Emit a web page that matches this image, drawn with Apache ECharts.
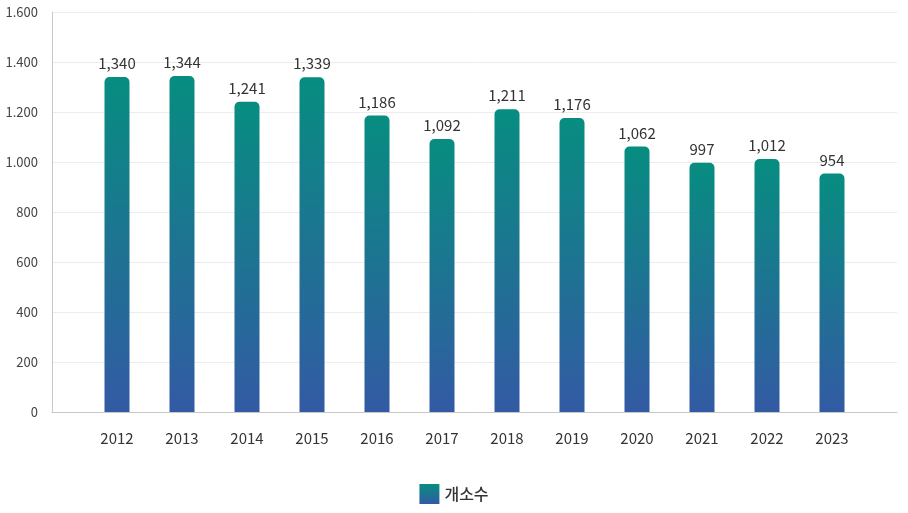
<!doctype html>
<html>
<head>
    <meta charset="utf-8">
    <title>개소수</title>
    <script src="https://cdn.jsdelivr.net/npm/echarts@6/dist/echarts.min.js"></script>
    <style>
        html, body { margin: 0; padding: 0; background: #fff; }
        #Chart { width: 908px; height: 513px; }
    </style>
</head>
<body>
    <div id="Chart"></div>
<script>
    // data
    var years = ['', '2012', '2013', '2014', '2015', '2016', '2017', '2018', '2019', '2020', '2021', '2022', '2023', ''];
    var counts = [null, 1340, 1344, 1241, 1339, 1186, 1092, 1211, 1176, 1062, 997, 1012, 954, null];
    var seriesName = '개소수';

    var font = '"Noto Sans CJK KR", "Noto Sans", sans-serif';

    function barColor() {
        return new echarts.graphic.LinearGradient(0, 0, 0, 1, [
            { offset: 0, color: '#078d80' },
            { offset: 1, color: '#335aa4' }
        ]);
    }

    var myChart = echarts.init(document.getElementById('Chart'));
    var option = {
        animation: false,
        textStyle: { fontFamily: font },
        grid: { left: 52, right: 11, top: 12, bottom: 101, containLabel: false },
        legend: {
            bottom: 4,
            left: 'center',
            itemWidth: 20,
            itemHeight: 20,
            itemGap: 10,
            icon: 'rect',
            textStyle: { fontSize: 16, color: '#333', fontWeight: 500, fontFamily: font },
            data: [seriesName]
        },
        xAxis: {
            type: 'category',
            data: years,
            boundaryGap: false,
            axisLine: { lineStyle: { color: '#c8c8c8' } },
            axisTick: { show: false },
            axisLabel: { color: '#333', fontSize: 15, margin: 19, interval: 0, fontFamily: font },
            splitLine: { show: false }
        },
        yAxis: {
            type: 'value',
            min: 0,
            max: 1600,
            interval: 200,
            axisLine: { show: true, lineStyle: { color: '#c8c8c8' } },
            axisTick: { show: false },
            axisLabel: {
                color: '#444', fontSize: 13, margin: 14, fontFamily: font,
                formatter: function (v) { return String(v).replace(/\B(?=(\d{3})+(?!\d))/g, '.'); }
            },
            splitLine: { lineStyle: { color: '#ececec' } }
        },
        series: [{
            name: seriesName,
            type: 'bar',
            barWidth: 25,
            data: counts,
            itemStyle: { color: barColor(), borderRadius: [5, 5, 0, 0] },
            label: {
                show: true,
                position: 'top',
                distance: 6,
                color: '#333',
                fontSize: 15,
                fontFamily: font,
                formatter: function (p) {
                    return p.value == null ? '' : String(p.value).replace(/\B(?=(\d{3})+(?!\d))/g, ',');
                }
            }
        }]
    };
    myChart.setOption(option);
</script>
</body>
</html>
